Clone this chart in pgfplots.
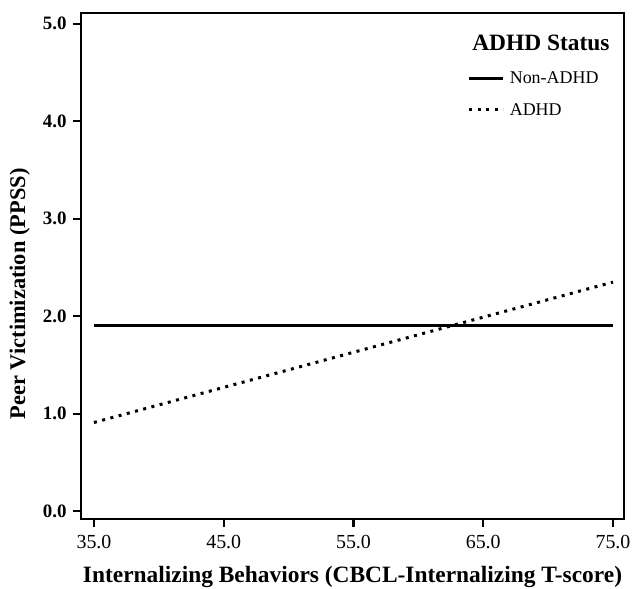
\documentclass[border=0pt]{standalone}
\usepackage{fontspec}
\setmainfont{Liberation Serif}
\usepackage{pgfplots}
\pgfplotsset{compat=1.18}

\begin{document}
\begin{tikzpicture}
  \begin{axis}[
      scale only axis,
      width=543bp, height=506bp,
      xmin=34.0, xmax=75.85,
      ymin=-0.08, ymax=5.11,
      xtick={35,45,55,65,75},
      ytick={0,1,2,3,4,5},
      /pgf/number format/assume math mode=true,
      /pgf/number format/fixed,
      /pgf/number format/fixed zerofill,
      /pgf/number format/precision=1,
      tick align=outside,
      xtick pos=bottom, ytick pos=left,
      major tick length=8bp,
      every tick/.style={line width=2.2bp, black},
      axis line style={line width=2.6bp},
      xticklabel style={font=\fontsize{20}{23}\selectfont, yshift=-5bp},
      yticklabel style={font=\fontsize{19}{22}\selectfont\bfseries, xshift=-3bp},
      xlabel={Internalizing Behaviors (CBCL-Internalizing T-score)},
      ylabel={Peer Victimization (PPSS)},
      xlabel style={font=\fontsize{23.5}{26}\selectfont\bfseries,
        at={(axis description cs:0.5,-0.1245)}, anchor=base},
      ylabel style={font=\fontsize{22.5}{26}\selectfont\bfseries,
        at={(axis description cs:-0.113,0.445)}, anchor=center},
      legend image code/.code={\draw[#1] (0bp,0bp) -- (34bp,0bp);},
      legend style={draw=none, fill=none, at={(axis description cs:0.712,0.888)}, anchor=north west,
        font=\fontsize{18}{21}\selectfont, row sep=14bp, inner sep=0pt,
        nodes={inner xsep=5bp}},
      legend cell align=left,
    ]
    \addplot[black, line width=3bp] coordinates {(35,1.90) (75,1.90)};
    \addlegendentry{Non-ADHD}
    \addplot[black, line width=3bp, dash pattern=on 3bp off 5.5bp] coordinates {(35,0.91) (75,2.35)};
    \addlegendentry{ADHD}
    \node[font=\fontsize{23.5}{27}\selectfont\bfseries] at (axis description cs:0.847,0.941) {ADHD Status};
  \end{axis}
  \pgfresetboundingbox
  \path ([shift={(-81bp,-69bp)}]current axis.south west) rectangle ([shift={(9bp,13bp)}]current axis.north east);
\end{tikzpicture}
\end{document}
